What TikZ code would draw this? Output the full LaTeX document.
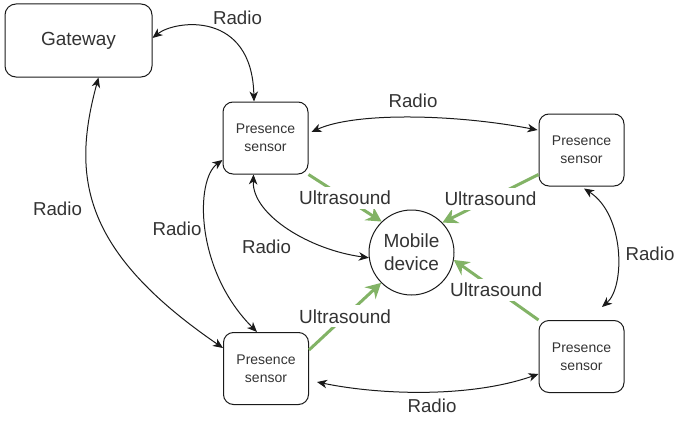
\documentclass[tikz,border=0pt]{standalone}
\usepackage{fontspec}
\setmainfont{Liberation Sans}
\usetikzlibrary{arrows.meta,calc}
\definecolor{ink}{HTML}{1A1A1A}
\definecolor{txt}{HTML}{333333}
\definecolor{usgreen}{HTML}{82B366}
\begin{document}
\begin{tikzpicture}[x=1pt,y=-1pt,
  every node/.style={text=txt},
  gwbox/.style={draw=ink, line width=1pt, rounded corners=11pt, minimum width=147pt, minimum height=73pt, inner sep=0pt, font=\fontsize{19}{23}\selectfont},
  psbox/.style={draw=ink, line width=1pt, rounded corners=10pt, minimum width=85pt, minimum height=72pt, inner sep=0pt, align=center, font=\fontsize{14}{18}\selectfont},
  mobcirc/.style={draw=ink, line width=1pt, circle, minimum size=85pt, inner sep=0pt, align=center, font=\fontsize{19}{23}\selectfont},
  radio/.style={draw=ink, line width=1pt, {Stealth[length=10pt,width=8.5pt,inset=3pt]}-{Stealth[length=10pt,width=8.5pt,inset=3pt]}},
  us/.style={draw=usgreen, line width=3pt, -{Stealth[length=15pt,width=16pt,inset=5pt]}},
  lbl/.style={font=\fontsize{18.7}{22}\selectfont, inner sep=0pt},
  uslbl/.style={font=\fontsize{19}{22}\selectfont, fill=white, inner xsep=1pt, inner ysep=4pt}
]
\useasboundingbox (0,0) rectangle (674,420);

\node[gwbox] (gw) at (78.5,40.5) {Gateway};
\node[psbox] (ps1) at (265.5,138) {Presence\\sensor};
\node[psbox] (ps2) at (581.5,150) {Presence\\sensor};
\node[psbox] (ps3) at (266,368.5) {Presence\\sensor};
\node[psbox] (ps4) at (581.5,356.5) {Presence\\sensor};
\node[mobcirc] (mob) at (411.5,252.5) {Mobile\\device};

% radio links
\draw[radio] ($(gw.east)+(0,-2.5)$) .. controls (175,20) and (252,10) .. ($(ps1.north)+(-11.5,0)$);
\draw[radio] ($(gw.south)+(20,0)$) .. controls (72,175) and (80,250) .. ($(ps3.west)+(0,-20.5)$);
\draw[radio] ($(ps1.west)+(0,22)$) .. controls (195,180) and (195,270) .. ($(ps3.north)+(-9,0)$);
\draw[radio] ($(ps1.south)+(-12,0)$) .. controls (252,215) and (310,250) .. (mob.187);
\draw[radio] ($(ps1.east)+(3,-6)$) .. controls (355,112) and (455,114) .. ($(ps2.west)+(-1,-20)$);
\draw[radio] ($(ps3.east)+(8,13.5)$) .. controls (380,395) and (470,398) .. ($(ps4.west)+(0,17.5)$);
\draw[radio] ($(ps2.south)+(2.5,2)$) .. controls (625,215) and (625,287) .. ($(ps4.north)+(20.5,-13)$);

\node[lbl] (r1) at (237.5,18) {Radio};
\node[lbl] (r2) at (57.5,208.5) {Radio};
\node[lbl] (r3) at (177,229) {Radio};
\node[lbl] (r4) at (266.5,246.5) {Radio};
\node[lbl] (r5) at (413,101) {Radio};
\node[lbl] (r6) at (432,406) {Radio};
\node[lbl] (r7) at (650,254) {Radio};

% ultrasound links
\draw[us] (ps1.south east) -- node[uslbl] {Ultrasound} (mob.134);
\draw[us] ($(ps2.south west)+(0,-12)$) -- node[uslbl] {Ultrasound} (mob.44);
\draw[us] ($(ps3.north east)+(0,18)$) -- node[uslbl] {Ultrasound} (mob.225);
\draw[us] (ps4.north west) -- node[uslbl] {Ultrasound} (mob.350);
\end{tikzpicture}
\end{document}
